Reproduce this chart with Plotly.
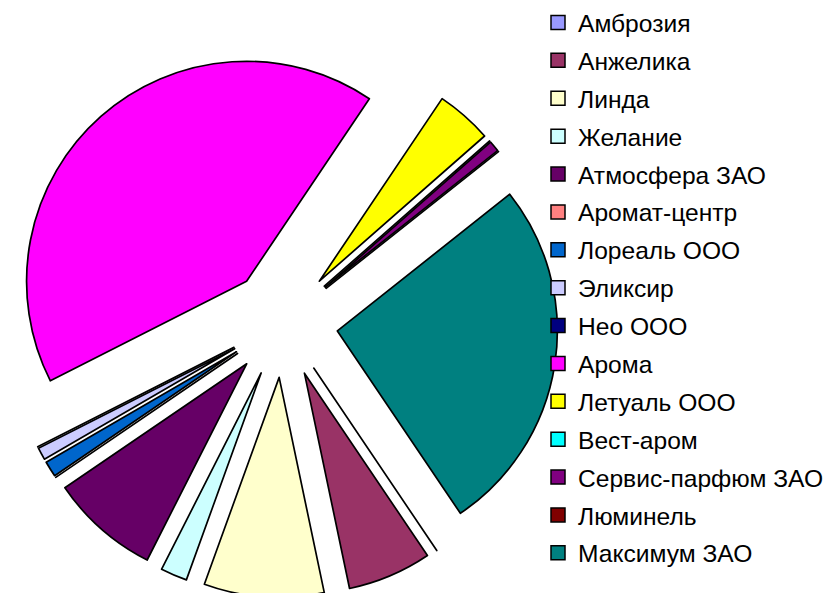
import plotly.graph_objects as go

# Data (shares, %); clockwise order starting at ~5 o'clock
categories = ["Амброзия", "Анжелика", "Линда", "Желание", "Атмосфера ЗАО",
              "Аромат-центр", "Лореаль ООО", "Эликсир", "Нео ООО", "Арома",
              "Летуаль ООО", "Вест-аром", "Сервис-парфюм ЗАО", "Люминель",
              "Максимум ЗАО"]
values = [0, 6.15, 8.8, 1.95, 8.0, 0, 1.15, 0.9, 0, 41.85, 4.1, 0, 0.8, 0, 26.2]
colors = ["#9999FF", "#993366", "#FFFFCC", "#CCFFFF", "#660066",
          "#FF8080", "#0066CC", "#CCCCFF", "#000080", "#FF00FF",
          "#FFFF00", "#00FFFF", "#800080", "#800000", "#008080"]

W, H = 834, 593
PULL = 0.25

fig = go.Figure()
fig.add_trace(go.Pie(
    labels=categories, values=values, sort=False, direction="clockwise",
    rotation=146, pull=[PULL] * len(values), textinfo="none",
    marker=dict(colors=colors, line=dict(color="black", width=1.7)),
    domain=dict(x=[0, 550 / W], y=[0, 557 / H]),
    showlegend=False, hoverinfo="label+percent",
))

# legend entries
for name, col in zip(categories, colors):
    fig.add_trace(go.Scatter(
        x=[None], y=[None], mode="markers", name=name, legendgroup=name,
        marker=dict(symbol="square", size=14, color=col,
                    line=dict(color="black", width=1.5)),
        hoverinfo="skip",
    ))

fig.update_layout(
    width=W, height=H,
    margin=dict(l=0, r=0, t=0, b=0, autoexpand=False),
    paper_bgcolor="white", plot_bgcolor="white",
    xaxis=dict(visible=False), yaxis=dict(visible=False),
    legend=dict(x=530 / W, y=1 + 8 / H, xanchor="left", yanchor="top",
                font=dict(family="Arial, Liberation Sans, sans-serif", size=24.6, color="black"),
                tracegroupgap=2.9, bgcolor="rgba(0,0,0,0)", borderwidth=0),
    showlegend=True,
)
try:
    fig.update_layout(legend_maxheight=H)
except Exception:
    fig.update_layout(legend_y=1)

fig.write_html("out.html")
